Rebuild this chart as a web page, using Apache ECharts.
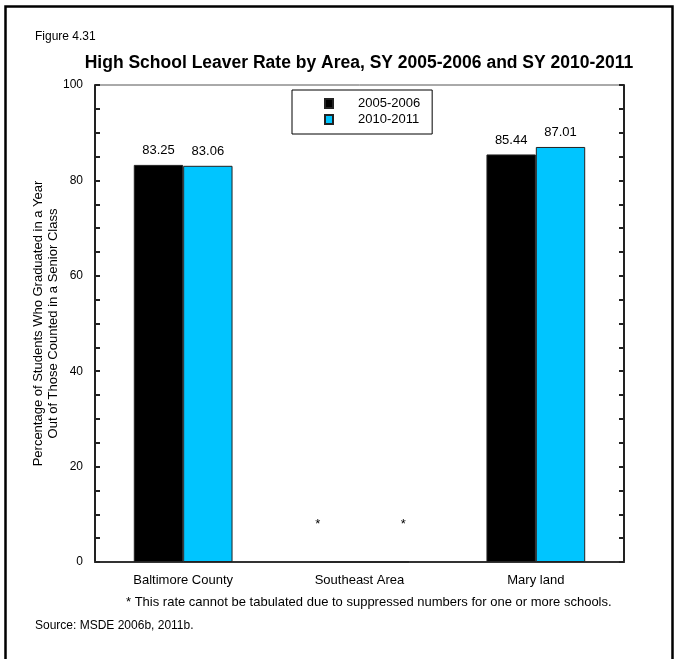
<!DOCTYPE html>
<html><head><meta charset="utf-8">
<script src="https://cdn.jsdelivr.net/npm/echarts@6/dist/echarts.min.js"></script>
<style>html,body{margin:0;padding:0;background:#fff;}#c{width:674px;height:659px;}</style>
</head><body><div id="c"></div>
<script>
var categories = ['Baltimore County', 'Southeast Area', 'Mary land'];
var series2006 = [83.25, null, 85.44];
var series2011 = [83.06, null, 87.01];
var seriesNames = ['2005-2006', '2010-2011'];
var suppressed = [false, true, false];

var FONT = 'Liberation Sans, Arial, sans-serif';
function mkData(vals, dx) {
  return vals.map(function (v, i) {
    if (suppressed[i]) {
      return { value: 0, label: { show: true, formatter: '*', offset: [dx, -23], fontSize: 13 } };
    }
    return v;
  });
}
var chart = echarts.init(document.getElementById('c'), null, { renderer: 'canvas' });
chart.setOption({
  backgroundColor: '#fff',
  animation: false,
  textStyle: { fontFamily: FONT },
  title: [
    { text: 'Figure 4.31', left: 30, top: 26, textStyle: { fontSize: 12, fontWeight: 'normal', color: '#000', fontFamily: FONT } },
    { text: 'High School Leaver Rate by Area, SY 2005-2006 and SY 2010-2011', left: 354, textAlign: 'center', top: 49, textStyle: { fontSize: 17.5, fontWeight: 'bold', color: '#000', fontFamily: FONT } }
  ],
  legend: {
    data: seriesNames,
    orient: 'vertical',
    left: 292, top: 90,
    backgroundColor: '#fff',
    borderColor: '#000', borderWidth: 1,
    padding: [7, 12, 8, 32],
    itemWidth: 8, itemHeight: 9, itemGap: 3,
    icon: 'rect',
    textStyle: { fontSize: 13, color: '#000', padding: [0, 0, 0, 20], fontFamily: FONT }
  },
  grid: { left: 95, right: 50, top: 85, bottom: 97, show: true, borderColor: '#555', borderWidth: 1 },
  xAxis: [{
    type: 'category', data: categories,
    axisLine: { lineStyle: { color: '#333', width: 2 } },
    axisTick: { show: false },
    axisLabel: { fontSize: 13, color: '#000', margin: 12, fontFamily: FONT }
  }],
  yAxis: [{
    type: 'value', min: 0, max: 100, interval: 20, position: 'left',
    name: 'Percentage of Students Who Graduated in a Year\nOut of Those Counted in a Senior Class',
    nameLocation: 'middle', nameGap: 34, nameRotate: 90, nameMoveOverlap: false,
    nameTextStyle: { fontSize: 13, color: '#000', lineHeight: 15, fontFamily: FONT },
    axisLine: { show: true, lineStyle: { color: '#222', width: 2 } },
    axisTick: { show: true, inside: true, length: 5, lineStyle: { color: '#222', width: 2 } },
    minorTick: { show: true, splitNumber: 4, length: 5, lineStyle: { color: '#222', width: 2 } },
    axisLabel: { fontSize: 12, color: '#000', margin: 12, fontFamily: FONT },
    splitLine: { show: false }
  }, {
    type: 'value', min: 0, max: 100, interval: 20, position: 'right',
    axisLine: { show: true, lineStyle: { color: '#222', width: 2 } },
    axisTick: { show: true, inside: true, length: 5, lineStyle: { color: '#222', width: 2 } },
    minorTick: { show: true, splitNumber: 4, length: 5, lineStyle: { color: '#222', width: 2 } },
    axisLabel: { show: false },
    splitLine: { show: false }
  }],
  series: [{
    name: seriesNames[0], type: 'bar', data: mkData(series2006, -17),
    barGap: '0%', barCategoryGap: '44%',
    itemStyle: { color: '#000', borderColor: '#222', borderWidth: 1 },
    label: { show: true, position: 'top', fontSize: 13, color: '#000', distance: 8, fontFamily: FONT }
  }, {
    name: seriesNames[1], type: 'bar', data: mkData(series2011, 19),
    itemStyle: { color: '#00C5FF', borderColor: '#222', borderWidth: 1 },
    label: { show: true, position: 'top', fontSize: 13, color: '#000', distance: 8, fontFamily: FONT }
  }],
  graphic: [
    { type: 'rect', left: 3, top: 4, shape: { width: 667, height: 660 }, style: { fill: 'none', stroke: '#000', lineWidth: 2.5 } },
    { type: 'text', left: 126, top: 596, style: { text: '* This rate cannot be tabulated due to suppressed numbers for one or more schools.', fill: '#000', font: '13px ' + FONT } },
    { type: 'text', left: 35, top: 620, style: { text: 'Source: MSDE 2006b, 2011b.', fill: '#000', font: '12px ' + FONT } }
  ]
});
</script></body></html>
